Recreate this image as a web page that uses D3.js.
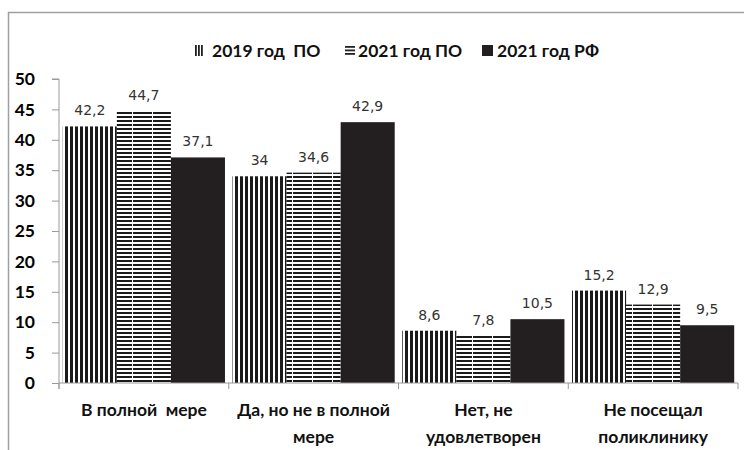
<!DOCTYPE html>
<html><head><meta charset="utf-8">
<script src="https://cdn.jsdelivr.net/npm/d3@7"></script>
<style>body{margin:0;background:#fff}svg{display:block}</style>
</head><body>
<svg id="chart" width="744" height="450"></svg>
<script>
const categories = [["В полной  мере"], ["Да, но не в полной", "мере"], ["Нет, не", "удовлетворен"], ["Не посещал", "поликлинику"]];
const seriesNames = ["2019 год  ПО", "2021 год ПО", "2021 год РФ"];
const values2019PO = [42.2, 34, 8.6, 15.2];
const values2021PO = [44.7, 34.6, 7.8, 12.9];
const values2021RF = [37.1, 42.9, 10.5, 9.5];
const yTicks = [0, 5, 10, 15, 20, 25, 30, 35, 40, 45, 50];
const seriesValues = [values2019PO, values2021PO, values2021RF];

const svg = d3.select("#chart");
const defs = svg.append("defs");
// vertical stripes
const pv = defs.append("pattern").attr("id","pv").attr("patternUnits","userSpaceOnUse").attr("width",5).attr("height",10);
pv.append("rect").attr("width",5).attr("height",10).attr("fill","#fff");
pv.append("rect").attr("x",0).attr("width",3).attr("height",10).attr("fill","#1a1a1a");
// horizontal stripes
const ph = defs.append("pattern").attr("id","ph").attr("patternUnits","userSpaceOnUse").attr("width",20).attr("height",4);
ph.append("rect").attr("width",20).attr("height",4).attr("fill","#fff");
ph.append("rect").attr("y",0).attr("width",20).attr("height",2).attr("fill","#1a1a1a");
ph.append("rect").attr("x",12).attr("width",1).attr("height",4).attr("fill","#fff");

const fills = ["url(#pv)", "url(#ph)", "#231f20"];

// frame
svg.append("path").attr("d","M8.5,450 V12.5 H744").attr("fill","none").attr("stroke","#a0a0a0").attr("stroke-width",1.5);

const x0 = 59, x1 = 738, yTop = 79, yBot = 383;
const x = d3.scaleBand().domain(d3.range(categories.length)).range([x0, x1]).padding(0);
const xs = d3.scaleBand().domain(d3.range(3)).range([0, x.bandwidth()]).paddingInner(0).paddingOuter(0.07);
const y = d3.scaleLinear().domain([0, 50]).range([yBot, yTop]);

// bars
const g = svg.append("g");
categories.forEach((c, ci) => {
  seriesValues.forEach((vals, si) => {
    const bx = x(ci) + xs(si);
    g.append("rect").attr("x", bx).attr("y", y(vals[ci])).attr("width", xs.bandwidth()).attr("height", y(0) - y(vals[ci])).attr("fill", fills[si]);
    g.append("text").attr("x", bx + xs.bandwidth()/2).attr("y", y(vals[ci]) - 11)
      .attr("text-anchor","middle").attr("font-family","DejaVu Sans").attr("font-size",14).attr("fill","#333")
      .text(String(vals[ci]).replace(".", ","));
  });
});

// y axis
const yAxis = d3.axisLeft(y).tickValues(yTicks).tickSize(7).tickPadding(17).tickFormat(d3.format("d"));
const ya = svg.append("g").attr("transform",`translate(${x0},0)`).call(yAxis);
ya.select(".domain").attr("stroke","#999").attr("d",`M-7,${yTop}H0V${yBot+6}`);
ya.selectAll(".tick line").attr("stroke","#999");
ya.selectAll(".tick text").attr("font-family","Lato").attr("font-weight","bold").attr("font-size",17.5).attr("fill","#000");

// x axis
svg.append("line").attr("x1",x0).attr("x2",x1).attr("y1",yBot).attr("y2",yBot).attr("stroke","#999");
d3.range(categories.length + 1).forEach(i => {
  const xx = x0 + i * x.step();
  svg.append("line").attr("x1",xx).attr("x2",xx).attr("y1",yBot).attr("y2",yBot+6).attr("stroke","#999");
});
categories.forEach((lines, ci) => {
  const t = svg.append("text").attr("text-anchor","middle").attr("font-family","Lato").attr("font-weight","bold").attr("font-size",17.5).attr("fill","#111");
  lines.forEach((ln, li) => {
    t.append("tspan").attr("x", x(ci) + x.bandwidth()/2).attr("y", 416 + li*27).attr("xml:space","preserve").style("white-space","pre").text(ln);
  });
});

// legend
const legendItems = [{x:195, tx:212}, {x:345, tx:358}, {x:482, tx:497}];
const lg = svg.append("g");
// icon 1: vertical bars
[0,3,6].forEach(d => lg.append("rect").attr("x",legendItems[0].x + d).attr("y",45).attr("width",1.8).attr("height",11).attr("fill","#222"));
// icon 2: horizontal lines
[0,3.5,7].forEach(d => lg.append("rect").attr("x",legendItems[1].x).attr("y",46 + d).attr("width",10).attr("height",1.8).attr("fill","#222"));
// icon 3
lg.append("rect").attr("x",legendItems[2].x).attr("y",45).attr("width",11).attr("height",11).attr("fill","#231f20");
seriesNames.forEach((n, i) => {
  lg.append("text").attr("x", legendItems[i].tx).attr("y", 57).attr("font-family","Lato").attr("font-weight","bold").attr("font-size",17.5).attr("fill","#111")
    .attr("xml:space","preserve").style("white-space","pre").text(n);
});
</script>
</body></html>
